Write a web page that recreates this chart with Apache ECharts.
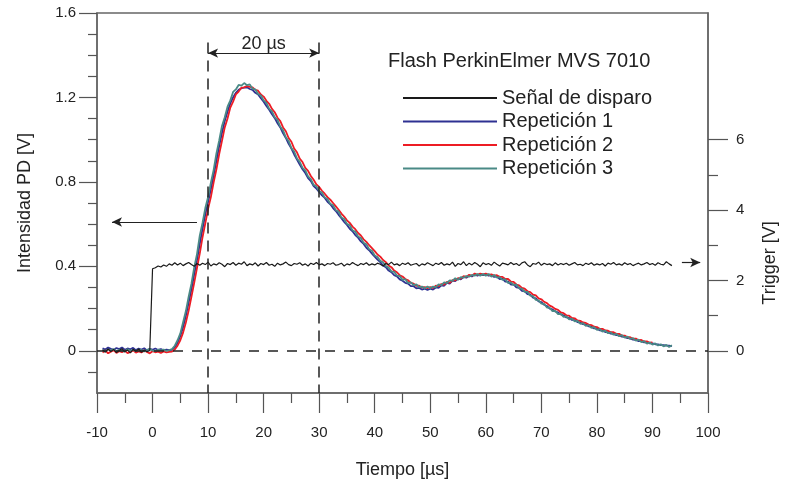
<!DOCTYPE html>
<html><head><meta charset="utf-8">
<script src="https://cdn.jsdelivr.net/npm/echarts@6/dist/echarts.min.js"></script>
<style>html,body{margin:0;padding:0;background:#fff}#c{width:787px;height:490px}</style>
</head><body><div id="c"></div>
<script>
const tiempo = [
-9,-8.5,-8,-7.5,-7,-6.5,-6,-5.5,-5,-4.5,
-4,-3.5,-3,-2.5,-2,-1.5,-1,-0.5,0,0.5,
1,1.5,2,2.5,3,3.5,4,4.5,5,5.5,
6,6.5,7,7.5,8,8.5,9,9.5,10,10.5,
11,11.5,12,12.5,13,13.5,14,14.5,15,15.5,
16,16.5,17,17.5,18,18.5,19,19.5,20,20.5,
21,21.5,22,22.5,23,23.5,24,24.5,25,25.5,
26,26.5,27,27.5,28,28.5,29,29.5,30,30.5,
31,31.5,32,32.5,33,33.5,34,34.5,35,35.5,
36,36.5,37,37.5,38,38.5,39,39.5,40,40.5,
41,41.5,42,42.5,43,43.5,44,44.5,45,45.5,
46,46.5,47,47.5,48,48.5,49,49.5,50,50.5,
51,51.5,52,52.5,53,53.5,54,54.5,55,55.5,
56,56.5,57,57.5,58,58.5,59,59.5,60,60.5,
61,61.5,62,62.5,63,63.5,64,64.5,65,65.5,
66,66.5,67,67.5,68,68.5,69,69.5,70,70.5,
71,71.5,72,72.5,73,73.5,74,74.5,75,75.5,
76,76.5,77,77.5,78,78.5,79,79.5,80,80.5,
81,81.5,82,82.5,83,83.5,84,84.5,85,85.5,
86,86.5,87,87.5,88,88.5,89,89.5,90,90.5,
91,91.5,92,92.5,93,93.5];

// Trigger signal [V] (right axis)
const senalDisparo = [
0.03,-0.04,0.05,-0.02,0.04,-0.05,0.01,0.06,-0.03,0.02,
-0.06,0.04,-0.01,0.05,-0.04,0.02,-0.03,0.01,2.33,2.36,
2.41,2.38,2.44,2.40,2.47,2.43,
2.50,2.44,2.49,2.42,2.47,2.51,2.45,2.40,2.48,2.43,
2.49,2.45,2.52,2.41,2.47,2.44,2.50,2.46,2.39,2.48,
2.45,2.51,2.43,2.49,2.46,2.53,2.42,2.47,2.44,2.50,
2.41,2.48,2.45,2.51,2.43,2.46,2.40,2.49,2.44,2.47,
2.52,2.45,2.42,2.48,2.46,2.50,2.43,2.47,2.41,2.49,
2.45,2.51,2.44,2.47,2.42,2.48,2.46,2.50,2.43,2.45,
2.49,2.41,2.47,2.44,2.51,2.46,2.42,2.48,2.45,2.50,
2.43,2.47,2.44,2.49,2.46,2.41,2.48,2.45,2.52,2.44,
2.47,2.42,2.49,2.45,2.50,2.43,2.46,2.48,2.41,2.47,
2.44,2.50,2.46,2.42,2.49,2.45,2.51,2.43,2.47,2.44,
2.52,2.40,2.48,2.45,2.53,2.42,2.49,2.44,2.51,2.46,
2.39,2.50,2.45,2.48,2.43,2.52,2.46,2.41,2.49,2.47,
2.44,2.51,2.45,2.48,2.42,2.50,2.53,2.44,2.39,2.48,
2.46,2.52,2.43,2.49,2.45,2.47,2.42,2.50,2.44,2.48,
2.45,2.49,2.43,2.47,2.51,2.44,2.46,2.42,2.49,2.45,
2.50,2.43,2.47,2.44,2.48,2.41,2.49,2.46,2.51,2.44,
2.47,2.43,2.50,2.45,2.48,2.42,2.46,2.49,2.44,2.47,
2.51,2.45,2.48,2.43,2.50,2.46,2.44,2.53,2.47,2.42];

// Photodiode intensity [V] (left axis)
const repeticion1 = [
0.012,0.006,0.015,0.009,0.004,0.013,0.008,0.016,0.005,0.011,
0.007,0.014,0.003,0.010,0.006,0.012,0.002,0.009,0.005,0.011,
0.004,0.008,0.002,0.006,0.003,0.004,0.016,0.038,0.07,0.112,
0.166,0.228,0.29,0.362,0.428,0.506,0.578,0.645,0.705,0.765,
0.83,0.9,0.97,1.032,1.088,1.132,1.172,1.2,1.222,1.236,
1.244,1.246,1.248,1.24,1.236,1.222,1.214,1.196,1.18,1.16,
1.142,1.12,1.102,1.078,1.058,1.03,1.008,0.98,0.958,0.93,
0.906,0.882,0.86,0.842,0.818,0.804,0.78,0.768,0.752,0.736,
0.724,0.706,0.694,0.676,0.662,0.644,0.628,0.61,0.596,0.578,
0.566,0.548,0.536,0.518,0.506,0.488,0.476,0.46,0.446,0.432,
0.42,0.404,0.396,0.38,0.372,0.358,0.352,0.338,0.332,0.322,
0.318,0.306,0.306,0.296,0.298,0.29,0.294,0.288,0.294,0.29,
0.3,0.298,0.31,0.308,0.322,0.318,0.332,0.33,0.342,0.338,
0.35,0.346,0.356,0.352,0.362,0.356,0.364,0.358,0.362,0.356,
0.358,0.35,0.352,0.34,0.342,0.328,0.328,0.314,0.314,0.3,
0.298,0.284,0.282,0.268,0.266,0.252,0.248,0.234,0.23,0.218,
0.212,0.2,0.196,0.186,0.182,0.172,0.168,0.158,0.156,0.146,
0.145,0.136,0.134,0.126,0.124,0.116,0.114,0.106,0.105,0.097,
0.096,0.089,0.088,0.081,0.08,0.074,0.073,0.067,0.066,0.06,
0.059,0.053,0.052,0.046,0.046,0.04,0.04,0.035,0.035,0.031,
0.03,0.027,0.027,0.024,0.024,0.022];

const repeticion2 = [
-0.008,0.002,-0.012,-0.004,0.003,-0.01,-0.002,-0.007,0.001,-0.011,
-0.005,0.002,-0.009,-0.003,-0.008,0.001,-0.006,-0.012,-0.002,-0.007,
-0.004,-0.01,-0.003,-0.008,-0.005,-0.004,0.006,0.024,0.05,0.086,
0.134,0.19,0.256,0.322,0.392,0.46,0.538,0.604,0.672,0.728,
0.798,0.86,0.932,0.994,1.058,1.1,1.152,1.18,1.214,1.228,
1.246,1.248,1.254,1.25,1.248,1.236,1.232,1.214,1.204,1.184,
1.17,1.146,1.13,1.104,1.088,1.058,1.04,1.008,0.99,0.958,
0.94,0.91,0.894,0.866,0.852,0.828,0.81,0.788,0.776,0.758,
0.744,0.728,0.716,0.7,0.684,0.668,0.65,0.636,0.618,0.606,
0.588,0.576,0.558,0.546,0.528,0.516,0.5,0.486,0.472,0.456,
0.446,0.43,0.42,0.404,0.396,0.38,0.372,0.358,0.352,0.34,
0.334,0.322,0.318,0.308,0.308,0.3,0.302,0.296,0.302,0.298,
0.308,0.306,0.316,0.314,0.326,0.322,0.334,0.334,0.344,0.342,
0.354,0.35,0.36,0.356,0.366,0.36,0.366,0.362,0.366,0.36,
0.362,0.356,0.358,0.35,0.35,0.34,0.34,0.328,0.326,0.314,
0.31,0.298,0.294,0.282,0.278,0.266,0.262,0.248,0.244,0.232,
0.226,0.214,0.208,0.198,0.194,0.182,0.178,0.168,0.166,0.156,
0.154,0.144,0.142,0.134,0.132,0.124,0.122,0.114,0.112,0.104,
0.104,0.096,0.095,0.088,0.088,0.08,0.08,0.072,0.072,0.064,
0.064,0.057,0.058,0.05,0.051,0.044,0.045,0.038,0.04];

const repeticion3 = [
0.004,-0.002,0.006,0.001,0.008,-0.003,0.005,0.002,-0.004,0.007,
0.000,0.005,-0.002,0.006,0.003,-0.003,0.004,0.008,0.001,-0.002,
0.005,0.002,0.006,-0.001,0.003,0.008,0.024,0.05,0.082,0.135,
0.188,0.256,0.318,0.395,0.458,0.545,0.607,0.676,0.728,0.796,
0.857,0.935,0.996,1.065,1.106,1.156,1.186,1.226,1.238,1.259,
1.256,1.268,1.258,1.262,1.241,1.238,1.216,1.209,1.186,1.174,
1.146,1.134,1.106,1.094,1.061,1.044,1.011,0.994,0.96,0.944,
0.911,0.895,0.866,0.854,0.826,0.813,0.786,0.779,0.756,0.749,
0.726,0.719,0.696,0.689,0.666,0.659,0.631,0.624,0.601,0.594,
0.571,0.564,0.541,0.534,0.511,0.504,0.481,0.474,0.451,0.444,
0.426,0.419,0.401,0.394,0.376,0.374,0.356,0.354,0.336,0.339,
0.321,0.324,0.311,0.314,0.301,0.304,0.296,0.304,0.296,0.304,
0.301,0.314,0.311,0.324,0.321,0.334,0.331,0.344,0.336,0.349,
0.346,0.354,0.351,0.359,0.356,0.364,0.356,0.364,0.356,0.364,
0.351,0.359,0.346,0.349,0.336,0.339,0.321,0.324,0.311,0.314,
0.296,0.294,0.279,0.279,0.261,0.259,0.241,0.239,0.223,0.222,
0.205,0.204,0.188,0.189,0.174,0.175,0.161,0.163,0.149,0.152,
0.139,0.142,0.128,0.131,0.118,0.121,0.108,0.112,0.099,0.103,
0.091,0.095,0.083,0.087,0.076,0.08,0.069,0.074,0.062,0.067,
0.056,0.06,0.048,0.053,0.041,0.046,0.034,0.039,0.029,0.035,
0.025,0.031,0.021,0.028,0.018,0.026];

const ticksIntensidad = [0, 0.4, 0.8, 1.2, 1.6];
const minorIntensidad = [-0.1, 0.1, 0.2, 0.3, 0.5, 0.6, 0.7, 0.9, 1.0, 1.1, 1.3, 1.4, 1.5];
const ticksTrigger = [0, 2, 4, 6];
const minorTrigger = [1, 3, 5];
const nombres = ['Señal de disparo', 'Repetición 1', 'Repetición 2', 'Repetición 3'];

const F = 'Liberation Sans, Arial, sans-serif';
const TXT = '#222';
const AX = '#666';

function pares(arr) { return arr.map((v, i) => [tiempo[i], v]); }

const chart = echarts.init(document.getElementById('c'), null, { renderer: 'canvas' });

const yBase = {
  type: 'value', splitLine: { show: false },
  axisLine: { show: false, onZero: false },
  axisLabel: { show: false }
};

chart.setOption({
  animation: false,
  backgroundColor: '#fff',
  title: {
    text: 'Flash PerkinElmer MVS 7010', left: 388, top: 51, padding: 0,
    textStyle: { fontSize: 20, fontWeight: 'normal', color: TXT, fontFamily: F }
  },
  legend: {
    data: nombres, orient: 'vertical', left: 403, top: 88,
    itemWidth: 94, itemHeight: 2, icon: 'rect', itemGap: 3.5, padding: 0,
    selectedMode: false,
    textStyle: { fontSize: 20, color: TXT, fontFamily: F, lineHeight: 20 }
  },
  grid: { left: 97, right: 79, top: 13, bottom: 97, show: true, borderColor: AX, borderWidth: 1.5 },
  xAxis: {
    type: 'value', min: -10, max: 100, interval: 10,
    axisLine: { show: true, onZero: false, lineStyle: { color: AX, width: 1.5 } },
    axisTick: { show: true, length: 20, lineStyle: { color: '#555', width: 1.2 } },
    minorTick: { show: true, splitNumber: 2, length: 10, lineStyle: { color: '#555', width: 1.2 } },
    splitLine: { show: false },
    axisLabel: { margin: 32, fontSize: 15, color: TXT, fontFamily: F },
    name: 'Tiempo [µs]', nameLocation: 'middle', nameGap: 68,
    nameTextStyle: { fontSize: 18, color: TXT, fontFamily: F }
  },
  yAxis: [
    {
      type: 'value', min: -0.2, max: 1.6, position: 'left',
      axisLine: { show: true, onZero: false, lineStyle: { color: AX, width: 1.5 } },
      axisTick: { show: true, length: 18, customValues: ticksIntensidad, lineStyle: { color: '#555', width: 1.2 } },
      axisLabel: { customValues: ticksIntensidad, margin: 21, fontSize: 15, color: TXT, fontFamily: F },
      splitLine: { show: false },
      name: 'Intensidad PD [V]', nameLocation: 'middle', nameGap: 63,
      nameTextStyle: { fontSize: 18, color: TXT, fontFamily: F }
    },
    Object.assign({}, yBase, {
      min: -0.2, max: 1.6, position: 'left',
      axisTick: { show: true, length: 9, customValues: minorIntensidad, lineStyle: { color: '#555', width: 1.2 } }
    }),
    {
      type: 'value', min: -1.2, max: 9.6, position: 'right',
      axisLine: { show: true, onZero: false, lineStyle: { color: AX, width: 1.5 } },
      axisTick: { show: true, length: 20, customValues: ticksTrigger, lineStyle: { color: '#555', width: 1.2 } },
      axisLabel: { customValues: ticksTrigger, margin: 28, fontSize: 15, color: TXT, fontFamily: F },
      splitLine: { show: false }
    },
    Object.assign({}, yBase, {
      min: -1.2, max: 9.6, position: 'right',
      axisTick: { show: true, length: 10, customValues: minorTrigger, lineStyle: { color: '#555', width: 1.2 } }
    })
  ],
  graphic: [{
    type: 'text', x: 770, y: 263, rotation: Math.PI / 2,
    style: { text: 'Trigger [V]', fontSize: 18, fill: TXT, fontFamily: F, align: 'center', verticalAlign: 'middle' }
  }],
  series: [
    {
      type: 'line', name: 'anotaciones', data: [], yAxisIndex: 0, silent: true,
      markLine: {
        silent: true, animation: false, symbol: ['none', 'none'],
        label: { show: false },
        emphasis: { disabled: true },
        lineStyle: { color: '#222', width: 1.5, type: [11, 7] },
        data: [
          [{ coord: [10, 1.46] }, { coord: [10, -0.2] }],
          [{ coord: [30, 1.46] }, { coord: [30, -0.2] }],
          [{ coord: [-10, 0], lineStyle: { color: '#222', width: 1.5, type: [10, 9] } }, { coord: [100, 0] }],
          [{ coord: [10, 1.41], symbol: 'arrow', symbolSize: [7, 10],
             lineStyle: { color: '#222', width: 1.2, type: 'solid' },
             label: { show: true, formatter: '20 µs', position: 'insideMiddleTop', distance: 0, fontSize: 18, color: TXT, fontFamily: F } },
           { coord: [30, 1.41], symbol: 'arrow', symbolSize: [7, 10] }],
          [{ coord: [8.0, 0.61], symbol: 'none', lineStyle: { color: '#222', width: 1.2, type: 'solid' } },
           { coord: [-7.3, 0.61], symbol: 'arrow', symbolSize: [7, 10] }],
          [{ coord: [95.3, 0.418], symbol: 'none', lineStyle: { color: '#222', width: 1.2, type: 'solid' } },
           { coord: [98.6, 0.418], symbol: 'arrow', symbolSize: [7, 10] }]
        ]
      }
    },
    { type: 'line', name: nombres[1], data: pares(repeticion1), yAxisIndex: 0, showSymbol: false, symbol: 'none',
      lineStyle: { color: '#2e3192', width: 1.8 }, itemStyle: { color: '#2e3192' } },
    { type: 'line', name: nombres[2], data: pares(repeticion2), yAxisIndex: 0, showSymbol: false, symbol: 'none',
      lineStyle: { color: '#ed1c24', width: 1.8 }, itemStyle: { color: '#ed1c24' } },
    { type: 'line', name: nombres[3], data: pares(repeticion3), yAxisIndex: 0, showSymbol: false, symbol: 'none',
      lineStyle: { color: '#4a8a86', width: 1.8 }, itemStyle: { color: '#4a8a86' } },
    { type: 'line', name: nombres[0], data: pares(senalDisparo), yAxisIndex: 2, showSymbol: false, symbol: 'none',
      lineStyle: { color: '#1a1a1a', width: 1.2 }, itemStyle: { color: '#1a1a1a' } }
  ]
});
</script>
</body></html>
